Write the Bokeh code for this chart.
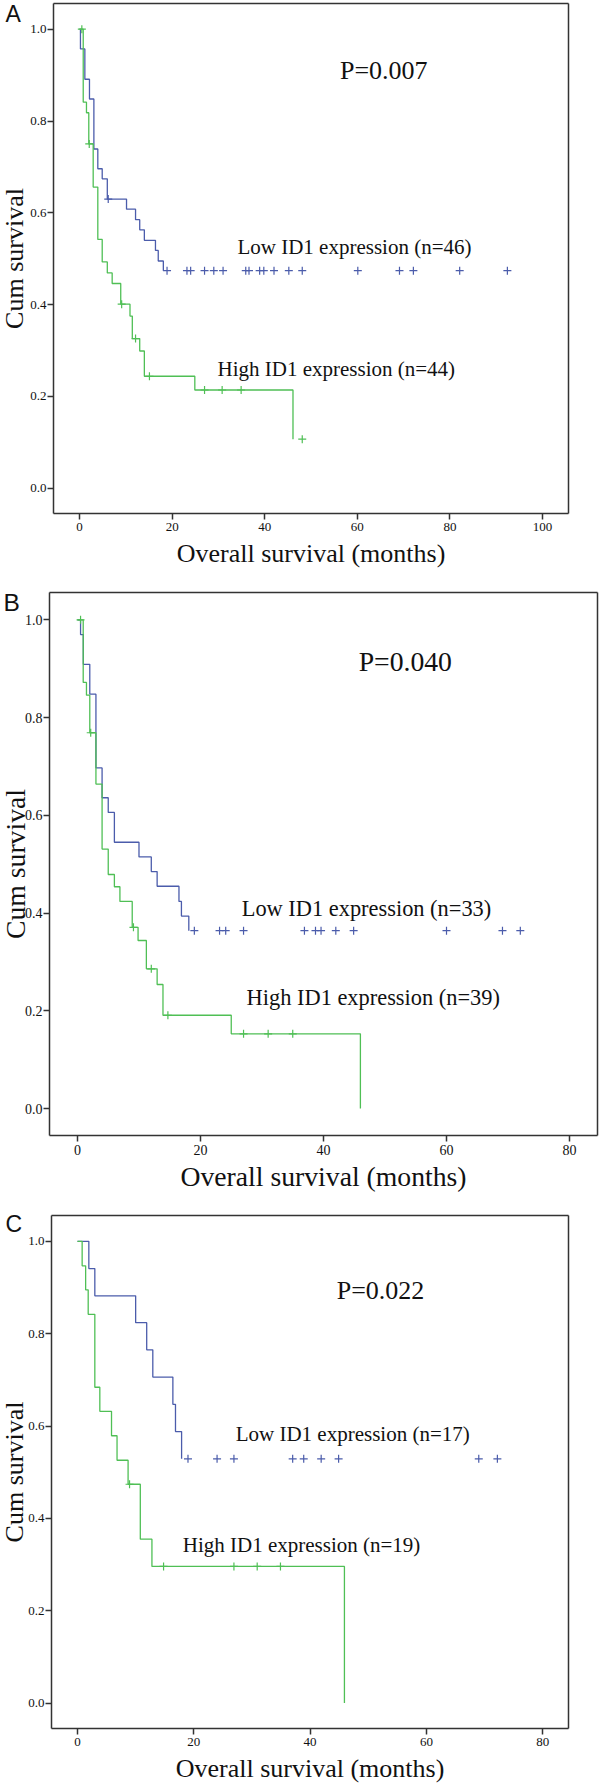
import math
from bokeh.plotting import figure
from bokeh.models import Label, FixedTicker, PrintfTickFormatter, Range1d, LinearAxis
from bokeh.layouts import column
from bokeh.embed import file_html
from bokeh.resources import INLINE

# ---------------- data ----------------
# Panel A
a_low_t = [0, 0.2, 1.15, 2.15, 3.1, 3.95, 4.9, 6.0, 10.15, 12.1, 13.0, 14.0, 16.4, 17.0, 18.1]
a_low_s = [1.0, 0.957, 0.891, 0.848, 0.739, 0.696, 0.674, 0.630, 0.608, 0.585, 0.563, 0.540, 0.518, 0.495, 0.474]
a_low_c = [6.2, 18.9, 23.2, 24.0, 27.0, 29.0, 31.0, 35.9, 36.6, 38.9, 39.8, 42.0, 45.2,
           48.1, 60.1, 69.1, 72.1, 82.1, 92.4]
a_high_t = [0, 0.8, 1.5, 2.0, 2.95, 3.95, 4.9, 6.0, 7.05, 8.9, 10.9, 11.4, 13.0, 14.0, 24.9, 46.1]
a_high_s = [1.0, 0.841, 0.818, 0.750, 0.656, 0.542, 0.493, 0.469, 0.446, 0.401, 0.375, 0.326, 0.299, 0.244, 0.214, 0.107]
a_high_c = [0.5, 2.1, 9.1, 12.1, 15.1, 27.0, 30.8, 34.9, 48.1]

# Panel B
b_low_t = [0, 0.5, 0.95, 2.0, 3.0, 4.0, 5.0, 6.0, 10.0, 12.0, 12.95, 16.5, 16.9, 18.1]
b_low_s = [1.0, 0.970, 0.909, 0.848, 0.697, 0.636, 0.606, 0.545, 0.515, 0.485, 0.455, 0.424, 0.394, 0.364]
b_low_c = [19.0, 23.1, 24.1, 27.0, 36.9, 38.7, 39.6, 42.0, 44.9, 60.0, 69.1, 72.0]
b_high_t = [0, 0.93, 1.46, 2.0, 3.0, 4.0, 5.0, 6.0, 6.9, 8.9, 9.85, 11.2, 12.95, 13.9, 25.0, 46.0]
b_high_s = [1.0, 0.872, 0.846, 0.769, 0.664, 0.531, 0.479, 0.454, 0.424, 0.371, 0.344, 0.286, 0.254, 0.191, 0.153, 0.0]
b_high_c = [0.5, 2.15, 9.1, 12.0, 14.7, 27.0, 31.0, 35.0]

# Panel C
c_low_t = [0, 1.95, 2.98, 10.0, 11.9, 12.95, 16.4, 16.85, 17.9]
c_low_s = [1.0, 0.941, 0.882, 0.824, 0.765, 0.706, 0.647, 0.588, 0.529]
c_low_c = [19.0, 24.0, 26.9, 37.0, 38.9, 41.9, 44.9, 69.0, 72.2]
c_high_t = [0, 0.8, 1.4, 1.84, 2.98, 3.84, 5.85, 6.8, 8.7, 10.8, 12.8, 45.9]
c_high_s = [1.0, 0.947, 0.895, 0.842, 0.684, 0.632, 0.579, 0.526, 0.474, 0.355, 0.296, 0.0]
c_high_c = [8.95, 14.8, 26.9, 30.9, 34.9]

panel_letters = ["A", "B", "C"]
p_values = ["P=0.007", "P=0.040", "P=0.022"]
low_labels = ["Low ID1 expression (n=46)", "Low ID1 expression (n=33)", "Low ID1 expression (n=17)"]
high_labels = ["High ID1 expression (n=44)", "High ID1 expression (n=39)", "High ID1 expression (n=19)"]
x_ticks_a = [0, 20, 40, 60, 80, 100]
x_ticks_bc = [0, 20, 40, 60, 80]
y_ticks = [0.0, 0.2, 0.4, 0.6, 0.8, 1.0]
x_title = "Overall survival (months)"
y_title = "Cum survival"

BLUE = "#4B5CAB"
GREEN = "#4FBF55"
AXC = "#333333"
SERIF = "Liberation Serif"
Y_BOX = (-0.055, 1.056)
W = 600


def step_value(times, surv, t):
    s = surv[0]
    for ti, si in zip(times, surv):
        if ti <= t:
            s = si
    return s


def style_axis(ax, fs):
    ax.axis_line_color = AXC
    ax.axis_line_width = 1.5
    ax.major_tick_line_color = AXC
    ax.major_tick_line_width = 1.5
    ax.major_tick_out = 6
    ax.major_tick_in = 0
    ax.minor_tick_line_color = None
    ax.major_label_text_font = SERIF
    ax.major_label_text_font_size = fs
    ax.major_label_text_color = "#111111"


def make_panel(spec):
    H = spec["height"]
    L, R, T, B = spec["box"]            # box edges in pixels within this figure
    x0, x1 = spec["xr"]                 # data extent of the box
    y0, y1 = Y_BOX
    sx = (x1 - x0) / (R - L)
    sy = (y1 - y0) / (B - T)
    xs, xe = x0 - L * sx, x1 + (W - R) * sx
    ye, ys = y1 + T * sy, y0 - (H - B) * sy

    def dx(px):
        return xs + px * sx

    def dy(py):
        return ye - py * sy

    p = figure(width=W, height=H, output_backend="svg", toolbar_location=None, title=None,
               x_range=Range1d(xs, xe), y_range=Range1d(ys, ye),
               min_border=0, min_border_left=0, min_border_right=0,
               min_border_top=0, min_border_bottom=0)
    p.grid.visible = False
    p.outline_line_color = None
    p.background_fill_color = "white"
    p.border_fill_color = "white"
    s = spec["scale"]
    fs = "%dpx" % round(13 * s)

    xa = p.xaxis[0]
    ya = p.yaxis[0]
    style_axis(xa, fs)
    style_axis(ya, fs)
    xa.fixed_location = y0
    xa.bounds = (x0, x1)
    ya.fixed_location = x0
    ya.bounds = (y0, y1)
    xa.ticker = FixedTicker(ticks=spec["xticks"])
    ya.ticker = FixedTicker(ticks=y_ticks)
    ya.formatter = PrintfTickFormatter(format="%.1f")
    xa.major_label_standoff = 3
    ya.major_label_standoff = 1

    top = LinearAxis(fixed_location=y1, bounds=(x0, x1), ticker=FixedTicker(ticks=[]))
    right = LinearAxis(fixed_location=x1, bounds=(y0, y1), ticker=FixedTicker(ticks=[]))
    for ax in (top, right):
        style_axis(ax, "0px")
        ax.major_tick_line_color = None
    p.add_layout(top, "above")
    p.add_layout(right, "right")

    for (t, sv, c, col) in spec["curves"]:
        p.step(t, sv, mode="after", line_color=col, line_width=1.3)
        cy = [step_value(t, sv, ct) for ct in c]
        p.scatter(c, cy, marker="cross", size=8, line_color=col, line_width=1.2)

    def lab(x, y, text, size, align="left", font=SERIF, angle=0.0):
        p.add_layout(Label(x=x, y=y, text=text, text_font=font, text_font_size="%.1fpx" % size,
                           text_align=align, text_baseline="middle", text_color="#111111",
                           angle=angle))

    lab(spec["pv"][0], spec["pv"][1], spec["ptext"], 26 * s, "center")
    lab(spec["lowpos"][0], spec["lowpos"][1], spec["low"], 21 * s)
    lab(spec["highpos"][0], spec["highpos"][1], spec["high"], 21 * s)
    # axis titles and panel letter (pixel positions converted through the scales)
    lab((x0 + x1) / 2, dy(B + spec["xt_off"]), x_title, 26 * s, "center")
    lab(dx(spec["yt_x"]), (y0 + y1) / 2, y_title, 26 * s, "center", angle=math.pi / 2)
    lab(dx(spec["lx"]), dy(spec["ly"]), spec["letter"], 23 * s, "left", font="Liberation Sans")
    return p


spec_a = dict(height=575, box=(53, 568, 3, 513), xr=(-5.62, 105.6), xticks=x_ticks_a, scale=1.0,
              curves=[(a_low_t, a_low_s, a_low_c, BLUE), (a_high_t, a_high_s, a_high_c, GREEN)],
              pv=(65.7, 0.911), ptext=p_values[0], low=low_labels[0], high=high_labels[0],
              lowpos=(34.1, 0.525), highpos=(29.8, 0.259), xt_off=40, yt_x=13.5,
              lx=5, ly=13, letter=panel_letters[0])
spec_b = dict(height=625, box=(49, 597, 17, 560), xr=(-4.55, 84.55), xticks=x_ticks_bc, scale=1.065,
              curves=[(b_low_t, b_low_s, b_low_c, BLUE), (b_high_t, b_high_s, b_high_c, GREEN)],
              pv=(53.3, 0.915), ptext=p_values[1], low=low_labels[1], high=high_labels[1],
              lowpos=(26.7, 0.41), highpos=(27.5, 0.228), xt_off=41, yt_x=14.8,
              lx=3, ly=27, letter=panel_letters[1])
spec_c = dict(height=584, box=(51, 568, 15, 528), xr=(-4.47, 84.43), xticks=x_ticks_bc, scale=1.0,
              curves=[(c_low_t, c_low_s, c_low_c, BLUE), (c_high_t, c_high_s, c_high_c, GREEN)],
              pv=(52.1, 0.894), ptext=p_values[2], low=low_labels[2], high=high_labels[2],
              lowpos=(27.2, 0.582), highpos=(18.1, 0.342), xt_off=40, yt_x=13.5,
              lx=5, ly=23, letter=panel_letters[2])

pa = make_panel(spec_a)
pb = make_panel(spec_b)
pc = make_panel(spec_c)

layout = column(pa, pb, pc, spacing=0)

open("out.html", "w").write(file_html(layout, INLINE))
